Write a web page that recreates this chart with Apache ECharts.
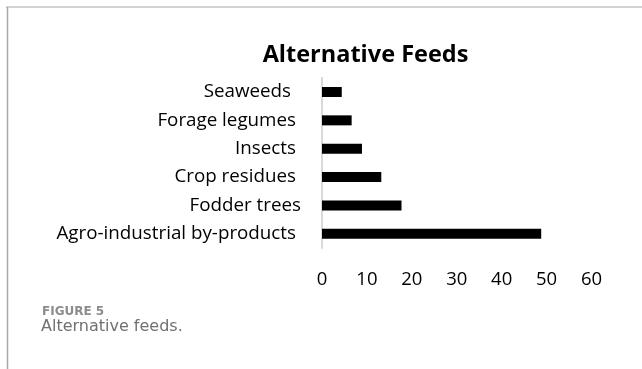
<!DOCTYPE html>
<html>
<head>
<meta charset="utf-8">
<script src="https://cdn.jsdelivr.net/npm/echarts@6/dist/echarts.min.js"></script>
<style>
  html, body { margin: 0; padding: 0; background: #fff; }
  #chart { width: 642px; height: 369px; }
</style>
</head>
<body>
<div id="chart"></div>
<script>
// Feed categories, listed top to bottom
const categories = ['Seaweeds', 'Forage legumes', 'Insects', 'Crop residues', 'Fodder trees', 'Agro-industrial by-products'];
// Number of mentions per feed type
const values = [4.4, 6.6, 8.9, 13.2, 17.7, 48.8];
// Value axis ticks
const xTicks = [0, 10, 20, 30, 40, 50, 60];
// Extra right padding for each category label
const labelPad = [10, 5, 5, 5, 0, 5];

const chart = echarts.init(document.getElementById('chart'), null, { renderer: 'canvas' });

const axisFont = 'Open Sans';

chart.setOption({
  animation: false,
  backgroundColor: '#fff',
  title: {
    text: 'Alternative Feeds',
    left: 360.5,
    textAlign: 'center',
    top: 38,
    textStyle: { fontFamily: 'Open Sans', fontWeight: 'bold', fontSize: 23.5, color: '#000' }
  },
  grid: { left: 322, right: 50.5, top: 77.8, bottom: 121, containLabel: false },
  xAxis: {
    type: 'value',
    min: xTicks[0],
    max: xTicks[xTicks.length - 1],
    interval: 10,
    axisLine: { show: false },
    axisTick: { show: false },
    splitLine: { show: false },
    axisLabel: { margin: 22, fontFamily: axisFont, fontSize: 18.5, color: '#000' }
  },
  yAxis: {
    type: 'category',
    inverse: true,
    data: categories.map((c, i) => ({ value: c, textStyle: { padding: [0, labelPad[i], 0, 0] } })),
    axisLine: { show: true, lineStyle: { color: '#d9d9d9', width: 2 } },
    axisTick: { show: false },
    axisLabel: { margin: 21, fontFamily: axisFont, fontSize: 18.8, color: '#000' }
  },
  series: [{
    type: 'bar',
    data: values,
    barWidth: 10,
    itemStyle: { color: '#000' }
  }],
  graphic: [
    { type: 'line', shape: { x1: 6, y1: 7, x2: 642, y2: 7 }, style: { stroke: '#c4c4c4', lineWidth: 1.5 } },
    { type: 'line', shape: { x1: 7.5, y1: 7, x2: 7.5, y2: 369 }, style: { stroke: '#a8a8a8', lineWidth: 1.5 } },
    { type: 'text', left: 42, top: 306, style: { text: 'FIGURE 5', font: 'bold 12px "DejaVu Sans"', fill: '#8c8c8c' } },
    { type: 'text', left: 41, top: 319, style: { text: 'Alternative feeds.', font: '16px "DejaVu Sans"', fill: '#707070' } }
  ]
});
</script>
</body>
</html>
